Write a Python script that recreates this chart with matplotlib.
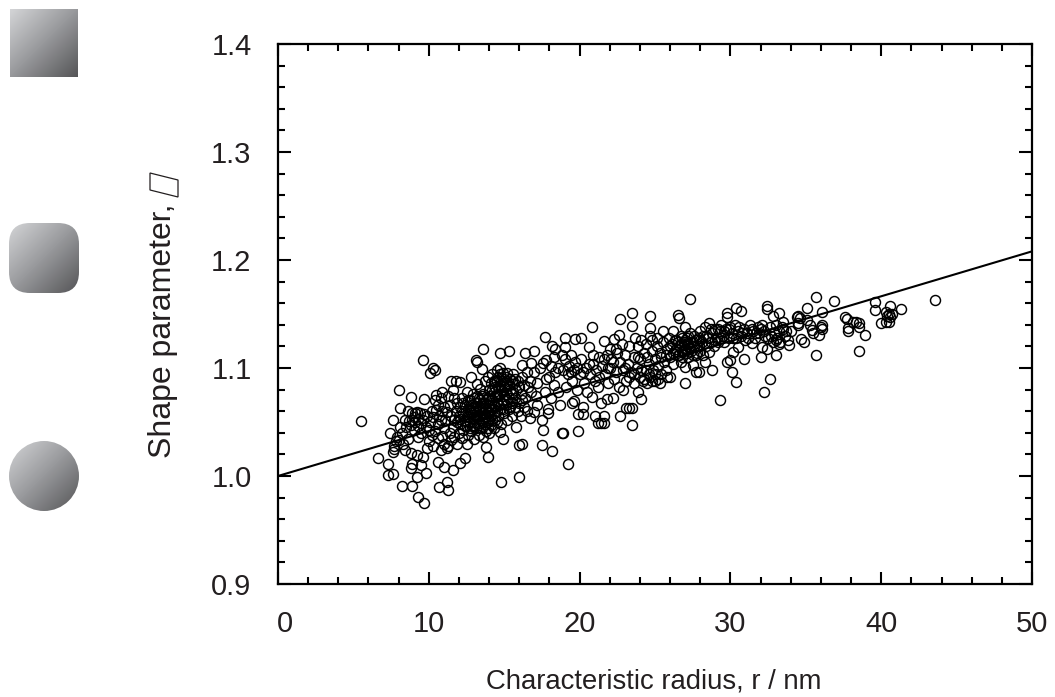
import numpy as np
import matplotlib
matplotlib.use("Agg")
import matplotlib.pyplot as plt
from matplotlib.patches import Circle, Rectangle, FancyBboxPatch, Polygon
from matplotlib.ticker import MultipleLocator, FixedLocator
from matplotlib.transforms import ScaledTranslation

plt.rcParams['font.family'] = ['Liberation Sans', 'DejaVu Sans']

fit_x = [0, 50]
fit_y = [1.0, 1.208]
x_ticks = [0, 10, 20, 30, 40, 50]
y_ticks = [0.9, 1.0, 1.1, 1.2, 1.3, 1.4]
x_label = "Characteristic radius, r / nm"
y_label = "Shape parameter,"

pts_left = [
 (5.5,1.051),(6.6,1.017),(7.3,1.011),(7.3,1.001),(7.6,1.002),(7.4,1.040),(7.6,1.052),(8.1,1.063),(8.0,1.080),(8.8,1.073),
 (9.7,1.071),(9.6,1.107),(10.3,1.100),(10.1,1.095),(10.4,1.098),(8.2,.991),(8.9,.991),(9.3,.981),(9.7,.975),(9.8,1.003),
 (8.9,1.011),(8.8,1.007),(9.2,.999),(9.5,1.010),(9.6,1.018),(9.2,1.019),(8.8,1.021),(8.4,1.024),(7.6,1.022),(7.7,1.025),
 (7.7,1.028),(7.8,1.032),(7.9,1.036),(8.0,1.033),(8.3,1.030),(8.6,1.034),(8.2,1.040),(8.5,1.045),(8.7,1.051),(8.9,1.058),
 (8.6,1.060),(8.8,1.047),(9.0,1.055),(9.1,1.050),(9.2,1.059),(9.0,1.043),(9.3,1.036),(9.5,1.040),(9.6,1.052),(9.4,1.058),
 (9.8,1.045),(9.9,1.056),(10.1,1.050),(10.2,1.060),(10.4,1.070),(10.5,1.075),(10.6,1.066),(10.8,1.072),(10.9,1.078),(10.2,1.038),
 (10.0,1.032),(9.9,1.026),(10.4,1.042),(10.6,1.048),(10.7,1.056),(10.9,1.060),(11.0,1.044),(11.1,1.052),(10.9,1.037),(11.0,1.030),
 (10.6,1.013),(11.0,1.008),(11.6,1.006),(10.7,.990),(11.2,.994),(11.3,.987),(12.1,1.012),(12.4,1.017),(11.3,1.028),(11.5,1.033),
 (10.8,1.024),(11.2,1.026),(11.5,1.088),(11.8,1.088),(12.1,1.087),(11.3,1.074),(11.6,1.080),(9.3,1.046),(8.4,1.052),(8.1,1.045),
]
pts_left_extra = [
 (8.9,1.052),(9.1,1.058),(9.3,1.053),(9.5,1.049),(9.7,1.057),(10.0,1.043),(10.3,1.055),(10.5,1.061),(10.8,1.052),(11.0,1.064),
 (11.2,1.059),(11.4,1.040),(11.4,1.066),(11.5,1.056),(11.7,1.036),(11.7,1.072),(11.9,1.030),(11.9,1.050),(10.3,1.028),(10.6,1.035),
]
pts_core = [
 (11.6,1.045),(11.7,1.052),(11.8,1.060),(11.9,1.068),(12.0,1.040),(12.0,1.056),(12.1,1.048),(12.1,1.064),(12.2,1.072),(12.2,1.035),
 (12.3,1.043),(12.3,1.058),(12.4,1.051),(12.4,1.066),(12.5,1.078),(12.5,1.030),(12.5,1.046),(12.6,1.038),(12.6,1.055),(12.6,1.062),
 (12.7,1.050),(12.7,1.070),(12.8,1.092),(12.8,1.042),(12.8,1.058),(12.9,1.047),(12.9,1.064),(12.9,1.076),(13.0,1.034),(13.0,1.053),
 (13.0,1.060),(13.1,1.107),(13.2,1.106),(13.1,1.044),(13.1,1.068),(13.2,1.055),(13.2,1.074),(13.2,1.085),(13.3,1.038),(13.3,1.049),
 (13.3,1.062),(13.4,1.056),(13.4,1.070),(13.4,1.081),(13.5,1.099),(13.5,1.044),(13.5,1.052),(13.5,1.065),(13.6,1.118),(13.6,1.036),
 (13.6,1.059),(13.6,1.076),(13.7,1.048),(13.7,1.068),(13.7,1.088),(13.8,1.027),(13.8,1.042),(13.8,1.055),(13.8,1.063),(13.9,1.018),
 (13.9,1.050),(13.9,1.072),(13.9,1.092),(14.0,1.040),(14.0,1.058),(14.0,1.066),(14.0,1.080),(14.1,1.047),(14.1,1.062),(14.1,1.086),
 (14.2,1.052),(14.2,1.070),(14.2,1.094),(14.3,1.044),(14.3,1.058),(14.3,1.078),(14.4,1.064),(14.4,1.074),(14.4,1.088),(14.5,1.050),
 (14.5,1.068),(14.5,1.098),(14.6,1.056),(14.6,1.082),(14.6,1.092),(14.7,1.100),(14.7,1.114),(14.7,1.041),(14.7,1.062),(14.7,1.076),
 (14.8,1.048),(14.8,.994),(14.8,1.088),(14.9,1.034),(14.9,1.070),(14.9,1.095),(15.0,1.058),(15.0,1.082),(15.0,1.090),(15.1,1.066),
 (15.1,1.076),(15.2,1.052),(15.2,1.086),(15.2,1.095),(15.3,1.116),(15.3,1.062),(15.3,1.072),(15.4,1.080),(15.4,1.090),(15.5,1.056),
 (15.5,1.068),(15.5,1.076),(15.6,1.085),(15.6,1.094),(15.7,1.064),(15.7,1.072),(15.8,1.045),(15.8,1.080),(15.9,1.060),(15.9,1.088),
 (16.0,1.029),(16.0,.999),(16.0,1.068),(16.1,1.076),(16.1,1.056),(16.2,1.030),(16.2,1.103),(16.2,1.092),(16.3,1.084),(16.3,1.064),
 (16.4,1.114),(16.4,1.072),(16.5,1.096),(16.5,1.060),(16.7,1.054),(16.7,1.088),(16.8,1.105),(16.8,1.078),(17.0,1.116),(17.0,1.059),
 (17.0,1.096),(17.1,1.074),(17.2,1.086),(17.4,1.100),(17.5,1.052),(17.5,1.029),(17.6,1.105),(17.6,1.043),(17.7,1.129),(17.7,1.078),
 (17.8,1.107),(17.9,1.058),(17.9,1.062),(18.0,1.092),(18.1,1.072),(18.2,1.120),(18.2,1.023),(18.3,1.084),(18.4,1.118),(18.4,1.096),
]
pts_core_extra = [
 (12.1,1.053),(12.2,1.060),(12.3,1.068),(12.4,1.046),(12.5,1.056),(12.6,1.070),(12.7,1.044),(12.7,1.060),(12.8,1.066),(12.9,1.054),
 (13.0,1.046),(13.0,1.072),(13.1,1.056),(13.1,1.062),(13.2,1.048),(13.3,1.056),(13.3,1.072),(13.4,1.044),(13.4,1.064),(13.5,1.058),
 (13.5,1.074),(13.6,1.050),(13.6,1.068),(13.7,1.056),(13.7,1.062),(13.8,1.070),(13.9,1.060),(13.9,1.044),(14.0,1.052),(14.0,1.074),
 (14.1,1.056),(14.1,1.068),(14.2,1.062),(14.2,1.080),(14.3,1.066),(14.3,1.088),(14.4,1.052),(14.4,1.082),(14.5,1.060),(14.5,1.076),
 (14.5,1.088),(14.6,1.066),(14.6,1.074),(14.7,1.084),(14.7,1.094),(14.8,1.068),(14.8,1.080),(14.9,1.088),(14.9,1.062),(15.0,1.074),
 (15.1,1.084),(15.1,1.092),(15.2,1.070),(15.3,1.084),(15.4,1.064),(15.5,1.088),(15.6,1.078),(15.7,1.090),(16.0,1.082),(16.2,1.070),
 (16.6,1.082),(17.2,1.066),(17.8,1.090),(18.1,1.102),(18.3,1.110),(18.6,1.100),(18.8,1.112),
]
pts_mid = [
 (18.6,1.078),(18.7,1.066),(18.8,1.040),(18.9,1.098),(18.9,1.040),(19.0,1.128),(19.0,1.119),(19.0,1.108),(19.1,1.082),(19.2,1.011),
 (19.2,1.094),(19.3,1.102),(19.4,1.112),(19.5,1.068),(19.5,1.088),(19.6,1.069),(19.6,1.098),(19.7,1.127),(19.7,1.106),(19.8,1.080),
 (19.9,1.057),(19.9,1.042),(20.0,1.094),(20.1,1.128),(20.1,1.108),(20.2,1.057),(20.2,1.064),(20.3,1.086),(20.4,1.100),(20.5,1.078),
 (20.6,1.119),(20.7,1.094),(20.8,1.138),(20.8,1.073),(20.9,1.104),(21.0,1.056),(21.0,1.088),(21.1,1.098),(21.2,1.049),(21.2,1.082),
 (21.3,1.110),(21.4,1.049),(21.4,1.068),(21.5,1.102),(21.6,1.125),(21.6,1.056),(21.6,1.049),(21.7,1.094),(21.8,1.071),(21.8,1.112),
 (21.9,1.086),(22.0,1.118),(22.0,1.100),(22.2,1.072),(22.2,1.106),(22.3,1.127),(22.3,1.090),(22.4,1.096),(22.5,1.114),(22.6,1.131),
 (22.6,1.082),(22.7,1.145),(22.7,1.056),(22.7,1.106),(22.8,1.122),(22.9,1.080),(22.9,1.098),(23.0,1.112),(23.1,1.063),(23.1,1.088),
 (23.2,1.104),(23.3,1.063),(23.3,1.120),(23.4,1.096),(23.5,1.151),(23.5,1.139),(23.5,1.063),(23.5,1.047),(23.6,1.086),(23.6,1.110),
 (23.7,1.128),(23.8,1.100),(23.9,1.078),(23.9,1.120),(24.0,1.092),(24.0,1.108),(24.1,1.071),(24.1,1.126),(24.2,1.088),(24.3,1.114),
 (24.4,1.098),(24.4,1.122),(24.5,1.086),(24.6,1.104),(24.7,1.148),(24.7,1.137),(24.7,1.130),(24.7,1.092),(24.8,1.116),(24.8,1.126),
 (24.9,1.098),(25.0,1.108),(25.0,1.088),(25.1,1.120),(25.1,1.128),(25.2,1.102),(25.3,1.086),(25.3,1.114),(25.4,1.094),(25.5,1.124),
 (25.5,1.134),(25.6,1.106),(25.7,1.098),(25.8,1.118),(25.9,1.128),(26.0,1.110),(26.0,1.092),(26.1,1.122),(26.2,1.104),(26.2,1.134),
 (26.3,1.116),(26.4,1.126),(26.5,1.149),(26.5,1.112),(26.6,1.146),(26.6,1.120),(26.7,1.130),(26.7,1.106),(26.8,1.116),(26.9,1.124),
 (27.0,1.138),(27.0,1.086),(27.0,1.101),(27.0,1.118),(27.1,1.128),(27.2,1.110),(27.2,1.122),(27.3,1.164),(27.3,1.132),(27.4,1.116),
 (27.5,1.103),(27.5,1.124),(27.6,1.130),(27.7,1.096),(27.7,1.112),(27.8,1.120),(27.9,1.096),(27.9,1.128),(28.0,1.116),(28.0,1.134),
]
pts_mid_extra = [
 (19.4,1.096),(19.8,1.100),(20.2,1.096),(20.6,1.104),(20.9,1.112),(21.3,1.092),(21.6,1.108),(21.9,1.100),(22.1,1.108),(22.4,1.118),
 (23.0,1.100),(23.3,1.092),(23.6,1.094),(23.9,1.110),(24.1,1.098),(24.3,1.090),(24.5,1.110),(24.6,1.094),(24.8,1.088),(25.0,1.094),
 (25.2,1.090),(25.4,1.110),(25.7,1.112),(25.8,1.092),(26.0,1.120),(26.2,1.114),(26.3,1.126),(26.4,1.118),(26.5,1.124),(26.6,1.112),
 (26.7,1.122),(26.8,1.128),(26.8,1.110),(26.9,1.116),(27.0,1.126),(27.1,1.114),(27.1,1.120),(27.2,1.130),(27.3,1.118),(27.4,1.124),
 (27.5,1.112),(27.6,1.120),(27.7,1.126),(27.8,1.114),(27.9,1.120),(28.0,1.126),
]
pts_right = [
 (28.1,1.124),(28.2,1.112),(28.2,1.130),(28.3,1.106),(28.3,1.138),(28.4,1.120),(28.5,1.128),(28.6,1.115),(28.6,1.142),(28.7,1.124),
 (28.8,1.098),(28.8,1.132),(28.9,1.120),(29.0,1.136),(29.1,1.128),(29.2,1.124),(29.3,1.070),(29.3,1.134),(29.4,1.140),(29.5,1.130),
 (29.6,1.124),(29.7,1.136),(29.8,1.151),(29.8,1.147),(29.8,1.106),(29.9,1.128),(30.0,1.107),(30.0,1.138),(30.1,1.096),(30.1,1.132),
 (30.2,1.115),(30.3,1.140),(30.4,1.156),(30.4,1.087),(30.4,1.128),(30.5,1.119),(30.5,1.134),(30.7,1.153),(30.7,1.130),(30.9,1.108),
 (30.9,1.136),(31.0,1.126),(31.1,1.132),(31.3,1.140),(31.4,1.123),(31.5,1.134),(31.6,1.128),(31.8,1.138),(31.9,1.132),(32.0,1.110),
 (32.1,1.119),(32.1,1.140),(32.2,1.078),(32.2,1.134),(32.4,1.157),(32.4,1.155),(32.4,1.118),(32.5,1.128),(32.6,1.090),(32.6,1.138),
 (32.8,1.148),(32.8,1.124),(32.9,1.132),(33.0,1.112),(33.0,1.140),(33.1,1.128),(33.2,1.151),(33.2,1.134),(33.3,1.124),(33.4,1.138),
 (33.5,1.143),(33.6,1.130),(33.8,1.126),(33.9,1.121),(34.0,1.134),(34.4,1.147),(34.5,1.148),(34.6,1.146),(34.5,1.140),(34.5,1.142),
 (34.7,1.127),(34.9,1.124),(35.1,1.156),(35.1,1.144),(35.3,1.140),(35.4,1.135),(35.5,1.132),(35.7,1.166),(35.7,1.112),(35.9,1.131),
 (36.0,1.138),(36.1,1.152),(36.1,1.140),(36.1,1.136),(36.9,1.162),(37.6,1.147),(37.7,1.145),(37.8,1.137),(37.8,1.134),(38.1,1.143),
 (38.3,1.143),(38.5,1.142),(38.5,1.138),(38.5,1.116),(38.9,1.131),(39.6,1.161),(39.6,1.154),(40.0,1.142),(40.3,1.143),(40.3,1.152),
 (40.4,1.148),(40.5,1.150),(40.6,1.147),(40.5,1.143),(40.6,1.157),(40.7,1.150),(41.3,1.155),(43.6,1.163),
]
pts_right_extra = [
 (28.4,1.130),(28.7,1.136),(29.0,1.126),(29.2,1.136),(29.4,1.128),(29.6,1.134),(29.9,1.136),(30.2,1.128),(30.6,1.138),(30.8,1.132),
 (31.2,1.128),(31.4,1.136),(31.7,1.132),(32.0,1.136),(32.3,1.130),(32.7,1.130),(33.0,1.126),(33.2,1.122),(33.5,1.136),(33.7,1.134),
]

W, H = 1055, 697
fig = plt.figure(figsize=(W / 100, H / 100), dpi=100)
fig.patch.set_facecolor('white')

# decorative gradient shapes on the left
deco = fig.add_axes([0, 0, 1, 1])
deco.set_xlim(0, W)
deco.set_ylim(H, 0)
deco.axis('off')
ramp_u, ramp_v = np.meshgrid(np.linspace(0, 1, 128), np.linspace(0, 1, 128))
ramp = (ramp_u + ramp_v) / 2
cmap = matplotlib.colors.LinearSegmentedColormap.from_list(
    'g', ['#d4d5d7', '#97989b', '#555557'])
def shaded(x0, y0, x1, y1, patch):
    im = deco.imshow(ramp, cmap=cmap, extent=(x0, x1, y1, y0), aspect='auto',
                     interpolation='bilinear', zorder=1)
    deco.add_patch(patch)
    im.set_clip_path(patch)
shaded(10, 9, 78, 77, Rectangle((10, 9), 68, 68, fc='none', ec='none'))
shaded(9, 223, 79, 293, FancyBboxPatch((29, 243), 30, 30, boxstyle='round,pad=20,rounding_size=21',
                                       fc='none', ec='none'))
shaded(9, 441, 79, 511, Circle((44, 476), 35, fc='none', ec='none'))
deco.set_xlim(0, W)
deco.set_ylim(H, 0)
# the missing-glyph box that ends the y label in the source
deco.add_patch(Polygon([(150, 173), (178, 180), (178, 197), (150, 190)], closed=True,
                       fc='none', ec='#231f20', lw=0.9))

ax = fig.add_axes([278 / W, 1 - 584 / H, 754 / W, 540 / H])
ax.patch.set_alpha(0)
ax.set_xlim(0, 50)
ax.set_ylim(0.9, 1.4)

ax.plot(fit_x, fit_y, color='black', lw=1.5, zorder=2)
pts = pts_left + pts_left_extra + pts_core + pts_core_extra + pts_mid + pts_mid_extra + pts_right + pts_right_extra
rad = [p[0] for p in pts]
shp = [p[1] for p in pts]
ax.plot(rad, shp, ls='none', marker='o', ms=7.2, mfc='none', mec='black', mew=1.05, zorder=3)

text_c = '#231f20'
ax.xaxis.set_major_locator(FixedLocator(x_ticks))
ax.yaxis.set_major_locator(FixedLocator(y_ticks))
ax.xaxis.set_minor_locator(MultipleLocator(2))
ax.yaxis.set_minor_locator(MultipleLocator(0.02))
ax.set_xticklabels([str(v) for v in x_ticks])
ax.set_yticklabels([f'{v:.1f}' for v in y_ticks])
ax.tick_params(which='both', direction='in', top=True, right=True, width=1.5, color='black')
ax.tick_params(which='major', axis='x', length=8.8, labelsize=21, pad=19, labelcolor=text_c)
ax.tick_params(which='major', axis='y', length=9.2, labelsize=21, pad=19, labelcolor=text_c)
ax.tick_params(which='minor', length=5)
for s in ax.spines.values():
    s.set_linewidth(1.6)
zero = ax.get_xticklabels()[0]
zero.set_transform(zero.get_transform() + ScaledTranslation(5 / 72, 0, fig.dpi_scale_trans))

fig.text(654 / W, 1 - 682 / H, x_label, fontsize=19.8, color=text_c, ha='center', va='center')
fig.text(163 / W, 1 - 331 / H, y_label, fontsize=23, color=text_c, ha='center', va='center', rotation=90)

fig.savefig('out.png', dpi=100)
